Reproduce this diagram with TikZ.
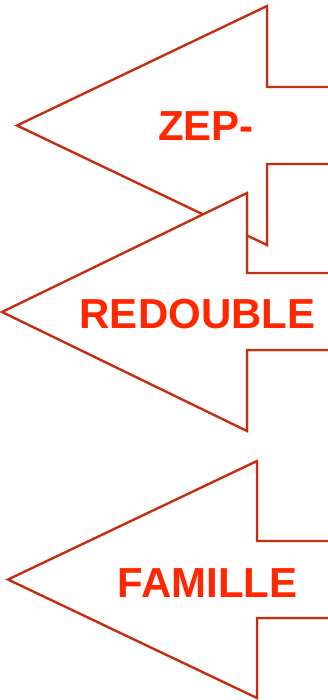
\documentclass[tikz,border=0pt]{standalone}
\usepackage{fontspec}
\setmainfont{Liberation Sans}
\usetikzlibrary{shadows}
\definecolor{arrowred}{HTML}{C4300F}
\definecolor{labelred}{HTML}{FF2600}
\tikzset{
	bigarrow/.style={draw=arrowred, fill=white, line width=2.4pt, line join=miter,
		drop shadow={opacity=0.3, shadow xshift=1.5pt, shadow yshift=-1.5pt}},
	arrowlabel/.style={anchor=base, text=labelred, inner sep=0pt,
		font=\fontsize{42}{42}\selectfont\bfseries}
}

\begin{document}
\begin{tikzpicture}[x=1pt, y=1pt]
	\useasboundingbox (0,0) rectangle (328,-700);
	\clip (0,0) rectangle (328,-700);
	% top arrow
	\draw[bigarrow] (345,-87) -- (267,-87) -- (267,-6) -- (17,-125.5) -- (267,-245) -- (267,-164) -- (345,-164) -- cycle;
	\node[arrowlabel] (zep) at (206,-141) {ZEP-};
	% middle arrow
	\draw[bigarrow] (345,-273) -- (247,-273) -- (247,-193) -- (2,-312) -- (247,-431) -- (247,-350) -- (345,-350) -- cycle;
	\node[arrowlabel] (redouble) at (197.5,-328) {REDOUBLE};
	% bottom arrow
	\draw[bigarrow] (345,-541) -- (257,-541) -- (257,-461) -- (8,-579.5) -- (257,-698) -- (257,-618) -- (345,-618) -- cycle;
	\node[arrowlabel] (famille) at (207.5,-597) {FAMILLE};
\end{tikzpicture}
\end{document}
